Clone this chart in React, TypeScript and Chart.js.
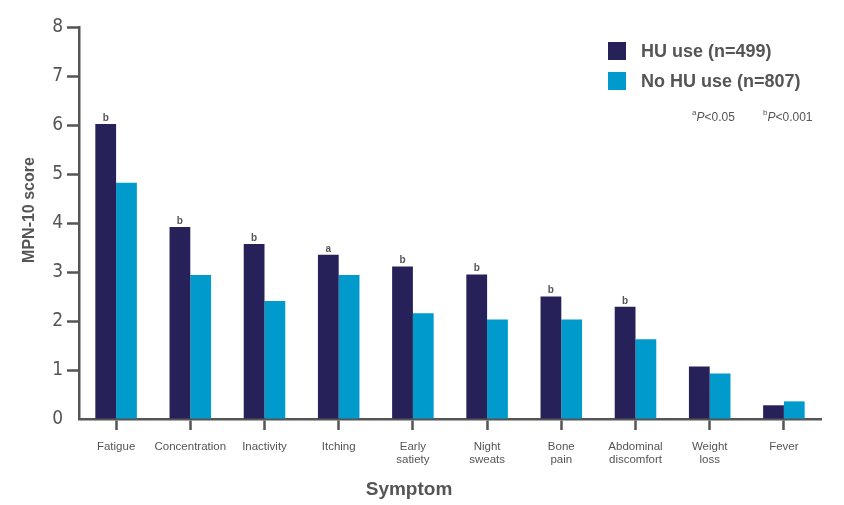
import React, { useEffect, useRef } from 'react';
import { Chart, BarController, CategoryScale, LinearScale, BarElement } from 'chart.js';

Chart.register(BarController, CategoryScale, LinearScale, BarElement);

const categories = [
    ['Fatigue'], ['Concentration'], ['Inactivity'], ['Itching'], ['Early', 'satiety'],
    ['Night', 'sweats'], ['Bone', 'pain'], ['Abdominal', 'discomfort'], ['Weight', 'loss'], ['Fever'],
];
const huUse = [6.02, 3.92, 3.57, 3.35, 3.11, 2.95, 2.5, 2.29, 1.07, 0.28];
const noHuUse = [4.82, 2.94, 2.41, 2.94, 2.16, 2.03, 2.03, 1.63, 0.93, 0.36];
const significance = ['b', 'b', 'b', 'a', 'b', 'b', 'b', 'b', '', ''];
const seriesLabels = ['HU use (n=499)', 'No HU use (n=807)'];
const yTicks = [0, 1, 2, 3, 4, 5, 6, 7, 8];

const NAVY = '#262259';
const CYAN = '#009bcc';
const GREY = '#555555';
const SANS = '"Liberation Sans", Arial, sans-serif';
const NARROW = '"Liberation Sans Narrow", "DejaVu Sans Condensed", "Liberation Sans", sans-serif';

// letters over bars, legend, footnote, axis titles
const extras = {
    id: 'extras',
    afterDraw(chart: Chart) {
        const ctx = chart.ctx;
        const meta = chart.getDatasetMeta(0);
        ctx.save();
        ctx.fillStyle = GREY;

        ctx.font = `bold 10px ${SANS}`;
        ctx.textAlign = 'center';
        ctx.textBaseline = 'bottom';
        significance.forEach((s, i) => {
            if (!s) return;
            const bar: any = meta.data[i];
            ctx.fillText(s, bar.x, bar.y - 1);
        });

        // legend
        const colors = [NAVY, CYAN];
        ctx.textAlign = 'left';
        ctx.textBaseline = 'middle';
        ctx.font = `bold 18px ${SANS}`;
        seriesLabels.forEach((label, i) => {
            const y = 42 + i * 30;
            ctx.fillStyle = colors[i];
            ctx.fillRect(608, y, 18, 18);
            ctx.fillStyle = GREY;
            ctx.fillText(label, 641, y + 10);
        });

        // footnote
        const note = (x: number, sup: string, rest: string) => {
            ctx.font = `8px ${SANS}`;
            ctx.fillText(sup, x, 113);
            let cx = x + ctx.measureText(sup).width;
            ctx.font = `italic 12px ${SANS}`;
            ctx.fillText('P', cx, 118);
            cx += ctx.measureText('P').width;
            ctx.font = `12px ${SANS}`;
            ctx.fillText(rest, cx, 118);
        };
        note(692, 'a', '<0.05');
        note(763, 'b', '<0.001');

        // axis titles
        ctx.textAlign = 'center';
        ctx.font = `bold 19px ${SANS}`;
        ctx.fillText('Symptom', 409, 490);
        ctx.translate(30, 210);
        ctx.rotate(-Math.PI / 2);
        ctx.font = `bold 16px ${SANS}`;
        ctx.fillText('MPN-10 score', 0, 0);
        ctx.restore();
    },
};

const App = () => {
    const chartRef = useRef<HTMLCanvasElement>(null);
    const chartInstance = useRef<Chart | null>(null);

    useEffect(() => {
        document.body.style.margin = '0';
        if (!chartRef.current) return;
        const ctx = chartRef.current.getContext('2d');
        if (!ctx) return;
        if (chartInstance.current) chartInstance.current.destroy();

        chartInstance.current = new Chart(ctx, {
            type: 'bar',
            data: {
                labels: categories,
                datasets: [
                    { label: seriesLabels[0], data: huUse, backgroundColor: NAVY },
                    { label: seriesLabels[1], data: noHuUse, backgroundColor: CYAN },
                ],
            },
            options: {
                animation: false,
                responsive: true,
                maintainAspectRatio: false,
                layout: { padding: { top: 27, right: 23, left: 0, bottom: 0 } },
                datasets: { bar: { categoryPercentage: 0.56, barPercentage: 1 } },
                plugins: { legend: { display: false }, tooltip: { enabled: false } },
                scales: {
                    y: {
                        min: 0,
                        max: 8,
                        afterBuildTicks: (scale: any) => {
                            scale.ticks = yTicks.map((v) => ({ value: v }));
                        },
                        afterFit: (scale: any) => {
                            scale.width = 79;
                        },
                        ticks: {
                            color: GREY,
                            padding: 4,
                            font: { family: NARROW, size: 19 },
                        },
                        grid: {
                            drawOnChartArea: false,
                            drawTicks: true,
                            tickLength: 12,
                            tickWidth: 2.5,
                            tickColor: (c: any) => (c.tick && c.tick.value === 0 ? 'rgba(0,0,0,0)' : GREY),
                        },
                        border: { display: true, color: GREY, width: 2.5 },
                    },
                    x: {
                        afterFit: (scale: any) => {
                            scale.height = 86;
                        },
                        ticks: {
                            color: GREY,
                            padding: 10,
                            maxRotation: 0,
                            autoSkip: false,
                            font: { family: SANS, size: 11.5, lineHeight: 1.16 },
                        },
                        grid: {
                            offset: false,
                            drawOnChartArea: false,
                            drawTicks: true,
                            tickLength: 11,
                            tickWidth: 2.5,
                            tickColor: GREY,
                        },
                        border: { display: true, color: GREY, width: 2.5 },
                    },
                },
            },
            plugins: [extras],
        });

        return () => {
            if (chartInstance.current) {
                chartInstance.current.destroy();
                chartInstance.current = null;
            }
        };
    }, []);

    return (
        <div style={{ position: 'relative', width: 844, height: 505, background: '#fff' }}>
            <canvas ref={chartRef}></canvas>
        </div>
    );
};

export default App;
